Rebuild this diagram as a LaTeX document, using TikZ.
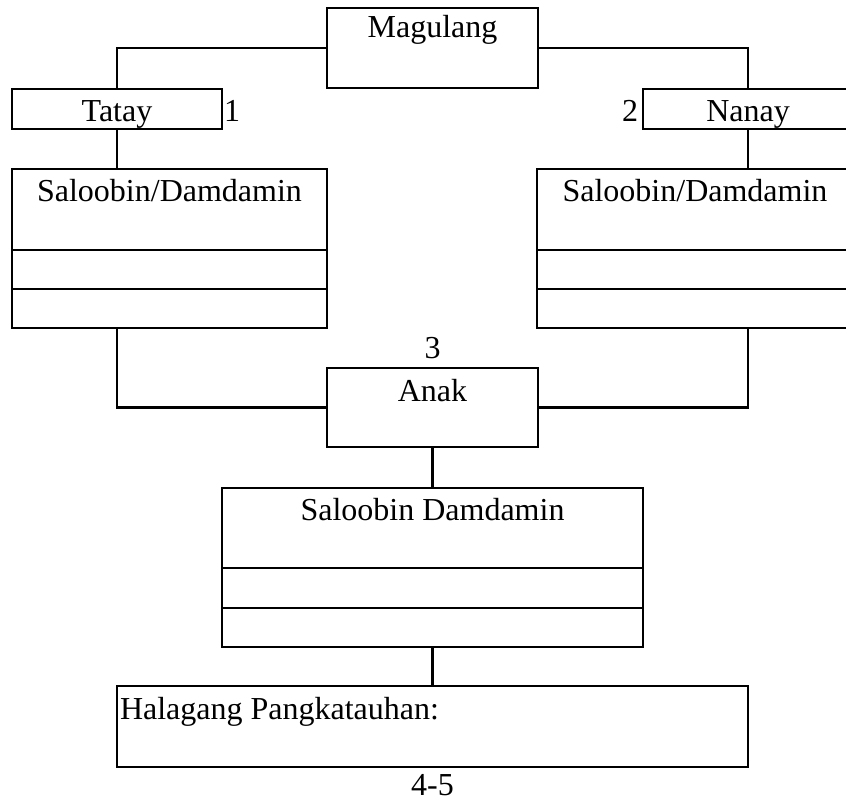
\documentclass[tikz,border=0pt]{standalone}
\usepackage{fontspec}
\setmainfont{Liberation Serif}
\begin{document}
\begin{tikzpicture}[x=1pt,y=-1pt,
  box/.style={draw, line width=2.3pt, inner sep=0pt, outer sep=0pt},
  lbl/.style={inner sep=0pt, outer sep=0pt, anchor=base, font=\fontsize{32}{38}\selectfont},
  conn/.style={line width=2.3pt, line join=miter}]
\useasboundingbox (0,0) rectangle (846,802);
\clip (0,0) rectangle (846,802);
% boxes
\node[box, minimum width=211pt, minimum height=80pt] (mag) at (432.5,48) {};
\node[box, minimum width=210pt, minimum height=40pt] (tatay) at (117,109) {};
\node[box, minimum width=210pt, minimum height=40pt] (nanay) at (748,109) {};
\node[box, minimum width=315pt, minimum height=159pt] (salL) at (169.5,248.5) {};
\node[box, minimum width=316pt, minimum height=159pt] (salR) at (695,248.5) {};
\node[box, minimum width=211pt, minimum height=79pt] (anak) at (432.5,407.5) {};
\node[box, minimum width=421pt, minimum height=159pt] (sd) at (432.5,567.5) {};
\node[box, minimum width=631pt, minimum height=81pt] (hal) at (432.5,726.5) {};
% dividers
\draw[conn] (salL.west |- 0,250) -- (salL.east |- 0,250);
\draw[conn] (salL.west |- 0,289) -- (salL.east |- 0,289);
\draw[conn] (salR.west |- 0,250) -- (salR.east |- 0,250);
\draw[conn] (salR.west |- 0,289) -- (salR.east |- 0,289);
\draw[conn] (sd.west |- 0,568) -- (sd.east |- 0,568);
\draw[conn] (sd.west |- 0,608) -- (sd.east |- 0,608);
% texts
\node[lbl] (tmag) at (432.5,38) {Magulang};
\node[lbl] (ttatay) at (117,122) {Tatay};
\node[lbl] (tnanay) at (748,122) {Nanay};
\node[lbl] (tone) at (232,122) {1};
\node[lbl] (ttwo) at (630,122) {2};
\node[lbl] (tsalL) at (169.5,202) {Saloobin/Damdamin};
\node[lbl] (tsalR) at (695,202) {Saloobin/Damdamin};
\node[lbl] (tthree) at (432.5,359) {3};
\node[lbl] (tanak) at (432.5,401) {Anak};
\node[lbl] (tsd) at (432.5,520) {Saloobin Damdamin};
\node[lbl, anchor=base west] (thal) at (120,719) {Halagang Pangkatauhan:};
\node[lbl] (tpage) at (432.5,795) {4-5};
% connectors
\draw[conn] (mag.west) -| (tatay.north);
\draw[conn] (mag.east) -| (nanay.north);
\draw[conn] (tatay.south) -- (tatay.south |- salL.north);
\draw[conn] (nanay.south) -- (nanay.south |- salR.north);
\coordinate (cl) at (tatay.south |- salL.south);
\coordinate (cr) at (nanay.south |- salR.south);
\draw[conn] (cl) |- (anak.west);
\draw[conn] (cr) |- (anak.east);
\draw[conn] (anak.south) -- (sd.north);
\draw[conn] (sd.south) -- (hal.north);
\end{tikzpicture}
\end{document}
